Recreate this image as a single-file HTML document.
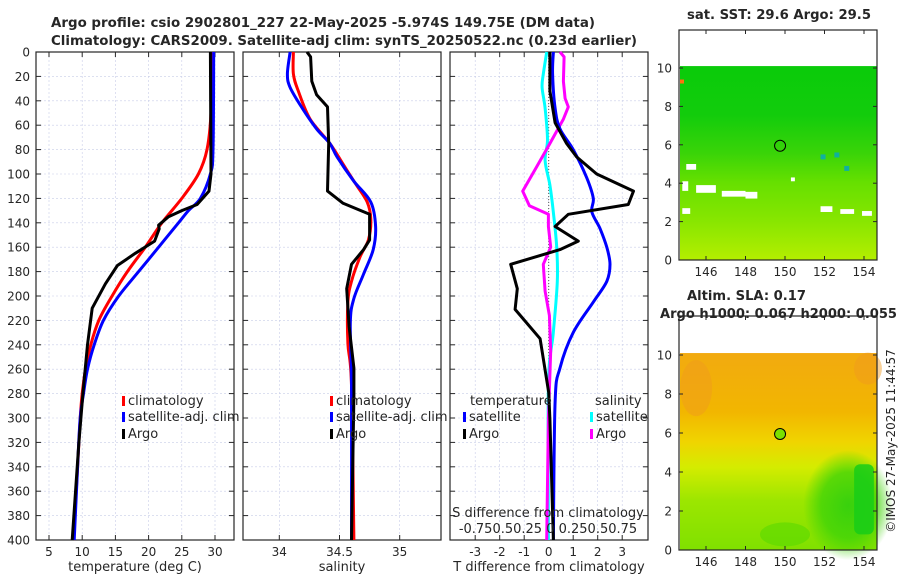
<!DOCTYPE html>
<html><head><meta charset="utf-8"><style>
body{margin:0;background:#fff;width:900px;height:580px;overflow:hidden}
svg{display:block}
text{font-family:"DejaVu Sans","Liberation Sans",sans-serif;fill:#262626}
</style></head><body>
<svg id="c" width="900" height="580" xmlns="http://www.w3.org/2000/svg"></svg>
<script>
// ---- Data ----
const tempClimDepth=[0,50,80,100,120,140,160,180,200,220,240,260,280,300,340,400];
const tempClim=[29.5,29.4,28.8,27.5,25,22,19.5,16.8,14.5,12.5,11.3,10.5,10,9.7,9.3,8.7];
const tempSatDepth=[0,80,100,120,130,140,160,180,200,220,240,260,280,300,340,400];
const tempSat=[29.8,29.7,29.3,27.8,26,24.5,21.5,18.5,15.5,13.2,11.8,10.8,10.2,9.7,9.3,8.8];
const tempArgoDepth=[0,100,114,125,130,135,142,145,155,165,175,190,210,240,280,320,400];
const tempArgo=[29.3,29.4,29.1,27.3,25,23,21.5,21.6,20.9,18,15.3,13.5,11.5,10.8,10.1,9.5,8.5];

const salClimDepth=[0,18,32,55,75,92,109,123,137,154,168,188,205,239,273,400];
const salClim=[34.117,34.117,34.158,34.256,34.42,34.53,34.64,34.73,34.76,34.74,34.67,34.60,34.57,34.57,34.60,34.62];
const salSatDepth=[0,18,29,46,63,75,86,106,123,143,162,182,202,222,273,400];
const salSat=[34.09,34.067,34.09,34.19,34.31,34.42,34.48,34.62,34.76,34.80,34.78,34.70,34.62,34.59,34.60,34.60];
const salArgoDepth=[0,4,24,35,45,75,114,124,133,154,162,174,194,225,259,282,400];
const salArgo=[34.23,34.26,34.27,34.31,34.40,34.41,34.40,34.53,34.75,34.75,34.70,34.60,34.56,34.58,34.62,34.62,34.60];

const dTSatDepth=[0,18,46,63,80,103,120,131,145,160,174,188,205,230,259,287,400];
const dTSat=[0.19,0.16,0.26,0.46,1.0,1.55,1.82,1.76,2.1,2.37,2.5,2.37,1.82,1.0,0.46,0.26,0.19];
const dTArgoDepth=[0,32,58,75,86,100,114,125,133,143,155,162,174,194,211,235,279,301,400];
const dTArgo=[0.05,0.05,0.26,0.73,1.14,1.96,3.46,3.25,0.8,0.26,1.21,0.46,-1.55,-1.28,-1.37,-0.35,0,0.05,0.19];
const dSSatDepth=[0,18,29,46,72,89,109,131,160,188,230,273,400];
const dSSat=[-0.02,-0.055,-0.067,-0.037,-0.012,-0.037,0.012,0.047,0.082,0.088,0.047,-0.003,-0.003];
const dSArgoDepth=[0,4,24,38,45,55,75,94,114,126,133,143,160,174,196,216,245,301,400];
const dSArgo=[0.115,0.157,0.15,0.167,0.2,0.15,0.012,-0.122,-0.265,-0.197,-0.003,-0.003,0.02,-0.055,-0.037,0.007,0.02,-0.003,-0.02];

const depthTicks=[0,20,40,60,80,100,120,140,160,180,200,220,240,260,280,300,320,340,360,380,400];
const tempTicks=[5,10,15,20,25,30];
const salTicks=[34,34.5,35];
const salTickLabels=["34","34.5","35"];
const dTTicks=[-3,-2,-1,0,1,2,3];
const dSTickLabels="-0.750.50.25 0  0.250.50.75";
const mapLonTicks=[146,148,150,152,154];
const mapLatTicks=[0,2,4,6,8,10];
const argoLon=149.75, argoLat=5.95;

// ---- helpers ----
const NS="http://www.w3.org/2000/svg", svg=document.getElementById('c');
function el(tag,attrs,parent,txt){const e=document.createElementNS(NS,tag);for(const k in attrs)e.setAttribute(k,attrs[k]);if(txt!=null)e.textContent=txt;(parent||svg).appendChild(e);return e;}
const Y0=52,Y1=540;
const yD=d=>Y0+d*(Y1-Y0)/400;

function panel(name,x0,x1,xs,ticks,labels,xlabel){
  const g=el('g',{},svg);
  
  
  ticks.forEach((t,i)=>{const x=xs(t);
    el('line',{x1:x,x2:x,y1:Y0,y2:Y1,stroke:'#c8cde8','stroke-width':0.6,'stroke-dasharray':'2,2'},g);
    el('line',{x1:x,x2:x,y1:Y1,y2:Y1-5,stroke:'#262626'},g);
    el('line',{x1:x,x2:x,y1:Y0,y2:Y0+5,stroke:'#262626'},g);
    const lt=el('text',{x:x,y:Y1+16,'font-size':12,'text-anchor':'middle'},g,labels[i]);
    
    
  });
  depthTicks.forEach(d=>{const y=yD(d);
    el('line',{x1:x0,x2:x1,y1:y,y2:y,stroke:'#c8cde8','stroke-width':0.6,'stroke-dasharray':'2,2'},g);
    el('line',{x1:x0,x2:x0+5,y1:y,y2:y,stroke:'#262626'},g);
    el('line',{x1:x1,x2:x1-5,y1:y,y2:y,stroke:'#262626'},g);
  });
  el('rect',{x:x0,y:Y0,width:x1-x0,height:Y1-Y0,fill:'none',stroke:'#262626','stroke-width':1.2},g);
  const xl=el('text',{x:(x0+x1)/2,y:571,'font-size':13,'text-anchor':'middle'},g,xlabel);
  
  
  return g;
}
function line(g,xs,vals,depths,color,name,smooth){
  const P=vals.map((v,i)=>[xs(v),yD(depths[i])]);
  let d='M'+P[0][0].toFixed(1)+','+P[0][1].toFixed(1);
  for(let i=0;i<P.length-1;i++){
    if(smooth){
      const p0=P[Math.max(0,i-1)],p1=P[i],p2=P[i+1],p3=P[Math.min(P.length-1,i+2)];
      const c1=[p1[0]+(p2[0]-p0[0])/6,p1[1]+(p2[1]-p0[1])/6],c2=[p2[0]-(p3[0]-p1[0])/6,p2[1]-(p3[1]-p1[1])/6];
      d+=' C'+c1.map(v=>v.toFixed(1))+' '+c2.map(v=>v.toFixed(1))+' '+p2.map(v=>v.toFixed(1));
    } else d+=' L'+P[i+1][0].toFixed(1)+','+P[i+1][1].toFixed(1);
  }
  const l=el('path',{d:d,fill:'none',stroke:color,'stroke-width':3,'stroke-linejoin':'round'},g);
  
  
}
function legendEntry(g,x,y,color,label){
  const e=el('g',{},g);
  
  
  el('rect',{x:x,y:y-9,width:3,height:10,fill:color},e);
  el('text',{x:x+6,y:y,'font-size':13},e,label);
}

const t1=el('text',{x:323,y:27,'font-size':13,'font-weight':'bold','text-anchor':'middle',textLength:544,lengthAdjust:'spacingAndGlyphs'},svg,'Argo profile: csio 2902801_227 22-May-2025 -5.974S 149.75E (DM data)');


const t2=el('text',{x:344,y:45,'font-size':13,'font-weight':'bold','text-anchor':'middle',textLength:586,lengthAdjust:'spacingAndGlyphs'},svg,'Climatology: CARS2009. Satellite-adj clim: synTS_20250522.nc (0.23d earlier)');



depthTicks.forEach(d=>{const t=el('text',{x:30,y:yD(d)+4.5,'font-size':12,'text-anchor':'end'},svg,String(d));
  
  });

const xT=t=>49+(t-5)*6.64;
const p1=panel('temperature-panel',36,234,xT,tempTicks,tempTicks.map(String),'temperature (deg C)');
line(p1,xT,tempClim,tempClimDepth,'#ff0000','climatology-temp-line',true);
line(p1,xT,tempSat,tempSatDepth,'#0000ff','satellite-temp-line',true);
line(p1,xT,tempArgo,tempArgoDepth,'#000000','argo-temp-line',false);
legendEntry(p1,122,405,'#ff0000','climatology');
legendEntry(p1,122,421,'#0000ff','satellite-adj. clim');
legendEntry(p1,122,438,'#000000','Argo');

const xS=s=>279.3+(s-34)*120.4;
const p2=panel('salinity-panel',243,441,xS,salTicks,salTickLabels,'salinity');
line(p2,xS,salClim,salClimDepth,'#ff0000','climatology-sal-line',true);
line(p2,xS,salSat,salSatDepth,'#0000ff','satellite-sal-line',true);
line(p2,xS,salArgo,salArgoDepth,'#000000','argo-sal-line',false);
legendEntry(p2,330,405,'#ff0000','climatology');
legendEntry(p2,330,421,'#0000ff','satellite-adj. clim');
legendEntry(p2,330,438,'#000000','Argo');

const xD=t=>548.7+t*24.5;
const xDS=s=>548.7+s*4*24.5;
const p3=panel('difference-panel',450,648,xD,dTTicks,dTTicks.map(String),'T difference from climatology');
el('line',{x1:xD(0),x2:xD(0),y1:Y0,y2:yD(270),stroke:'#555','stroke-width':1,'stroke-dasharray':'1,2'},p3);
line(p3,xDS,dSSat,dSSatDepth,'#00ffff','satellite-sal-diff-line',true);
line(p3,xDS,dSArgo,dSArgoDepth,'#ff00ff','argo-sal-diff-line',false);
line(p3,xD,dTSat,dTSatDepth,'#0000ff','satellite-temp-diff-line',true);
line(p3,xD,dTArgo,dTArgoDepth,'#000000','argo-temp-diff-line',false);
el('text',{x:470,y:405,'font-size':13},p3,'temperature');
el('text',{x:595,y:405,'font-size':13},p3,'salinity');
legendEntry(p3,463,421,'#0000ff','satellite');
legendEntry(p3,463,438,'#000000','Argo');
legendEntry(p3,590,421,'#00ffff','satellite');
legendEntry(p3,590,438,'#ff00ff','Argo');
const sl=el('text',{x:548,y:517,'font-size':13,'text-anchor':'middle'},p3,'S difference from climatology');


const st=el('text',{x:548,y:533,'font-size':13,'text-anchor':'middle'},p3,dSTickLabels);



// ---- Maps ----
function map(name,top,bottom,lat0y,latScale,title,titleY,fillFn){
  const g=el('g',{},svg);
  
  
  const xL=lon=>785+(lon-150)*19.75, yL=lat=>lat0y-lat*latScale;
  el('rect',{x:679,y:top,width:198,height:bottom-top,fill:'#fff'},g);
  fillFn(g,xL,yL);
  mapLonTicks.forEach(l=>{const x=xL(l);
    el('line',{x1:x,x2:x,y1:bottom,y2:bottom-4,stroke:'#262626'},g);
    el('line',{x1:x,x2:x,y1:top,y2:top+4,stroke:'#262626'},g);
    el('text',{x:x,y:bottom+16,'font-size':12,'text-anchor':'middle'},g,String(l));});
  mapLatTicks.forEach(l=>{const y=yL(l);
    el('line',{x1:679,x2:683,y1:y,y2:y,stroke:'#262626'},g);
    el('line',{x1:877,x2:873,y1:y,y2:y,stroke:'#262626'},g);
    el('text',{x:672,y:y+4.5,'font-size':12,'text-anchor':'end'},g,String(l));});
  el('rect',{x:679,y:top,width:198,height:bottom-top,fill:'none',stroke:'#262626','stroke-width':1.2},g);
  title.forEach((s,i)=>el('text',{x:s[1]+s[2]/2,y:titleY+i*18,'font-size':13,'font-weight':'bold','text-anchor':'middle',textLength:s[2],lengthAdjust:'spacingAndGlyphs'},g,s[0]));
  const c=el('circle',{cx:xL(argoLon),cy:yL(argoLat),r:5.5,fill:name==='sla-map'?'#7be000':'none',stroke:'#000','stroke-width':1},g);
  
  
}
const defs=el('defs',{});
const g1=el('linearGradient',{id:'sst',x1:0,y1:0,x2:0,y2:1},defs);
[['0','#0acb0a'],['0.25','#12cc0c'],['0.45','#3ad408'],['0.6','#66e000'],['0.8','#88e600'],['1','#b4ee00']].forEach(s=>el('stop',{offset:s[0],'stop-color':s[1]},g1));
const g2=el('linearGradient',{id:'sla',x1:0,y1:0,x2:0,y2:1},defs);
[['0','#f2aa10'],['0.3','#f2b600'],['0.45','#f0d400'],['0.58','#d4ec00'],['0.75','#9ce600'],['1','#80e000']].forEach(s=>el('stop',{offset:s[0],'stop-color':s[1]},g2));
const g3=el('radialGradient',{id:'grn'},defs);
[['0','#20cc10'],['0.6','#40d408'],['1','#40d408']].forEach(s=>el('stop',{offset:s[0],'stop-color':s[1],'stop-opacity':s[0]==='1'?0:1},g3));

map('sst-map',30,260,260,19.2,[['sat. SST: 29.6 Argo: 29.5',687,184]],19,(g,xL,yL)=>{
  el('rect',{x:680,y:yL(10.1),width:197,height:yL(0)-yL(10.1),fill:'url(#sst)'},g);
  [[145.5,3.5,1,0.4],[146.8,3.3,1.2,0.3],[148.0,3.2,0.6,0.35],[145.0,4.7,0.5,0.3],[151.8,2.5,0.6,0.3],[152.8,2.4,0.7,0.25],[153.9,2.3,0.5,0.25],[150.3,4.1,0.2,0.2],[144.8,3.6,0.3,0.5],[144.8,2.4,0.4,0.3]].forEach(b=>
    el('rect',{x:xL(b[0]),y:yL(b[1]+b[3]),width:b[2]*19.75,height:b[3]*19.2,fill:'#fff'},g));
  el('rect',{x:680,y:yL(9.4),width:4,height:4,fill:'#ff7010'},g);
  [[151.8,5.5],[152.5,5.6],[153.0,4.9]].forEach(p=>el('rect',{x:xL(p[0]),y:yL(p[1]),width:5,height:5,fill:'#10b0a0'},g));
});
map('sla-map',316,550,550,19.5,[['Altim. SLA: 0.17',687,119],['Argo h1000: 0.067 h2000: 0.055',660,237]],300,(g,xL,yL)=>{
  el('rect',{x:680,y:yL(10.1),width:197,height:yL(0)-yL(10.1),fill:'url(#sla)'},g);
  el('ellipse',{cx:xL(153.2),cy:yL(2.3),rx:45,ry:55,fill:'url(#grn)',opacity:0.8},g);
  el('rect',{x:xL(153.5),y:yL(4.4),width:xL(154.5)-xL(153.5),height:yL(0.8)-yL(4.4),rx:6,fill:'#18cc18',opacity:0.85},g);
  el('ellipse',{cx:xL(150),cy:yL(0.8),rx:25,ry:12,fill:'#50d800',opacity:0.5},g);
  el('ellipse',{cx:xL(145.5),cy:yL(8.3),rx:16,ry:28,fill:'#f09a20',opacity:0.45},g);
  el('ellipse',{cx:xL(154.2),cy:yL(9.3),rx:14,ry:16,fill:'#f09a20',opacity:0.45},g);
});
const cp=el('text',{x:0,y:0,'font-size':12,'text-anchor':'middle',transform:'translate(895,441) rotate(-90)'},svg,'©IMOS 27-May-2025 11:44:57');


</script>
</body></html>
